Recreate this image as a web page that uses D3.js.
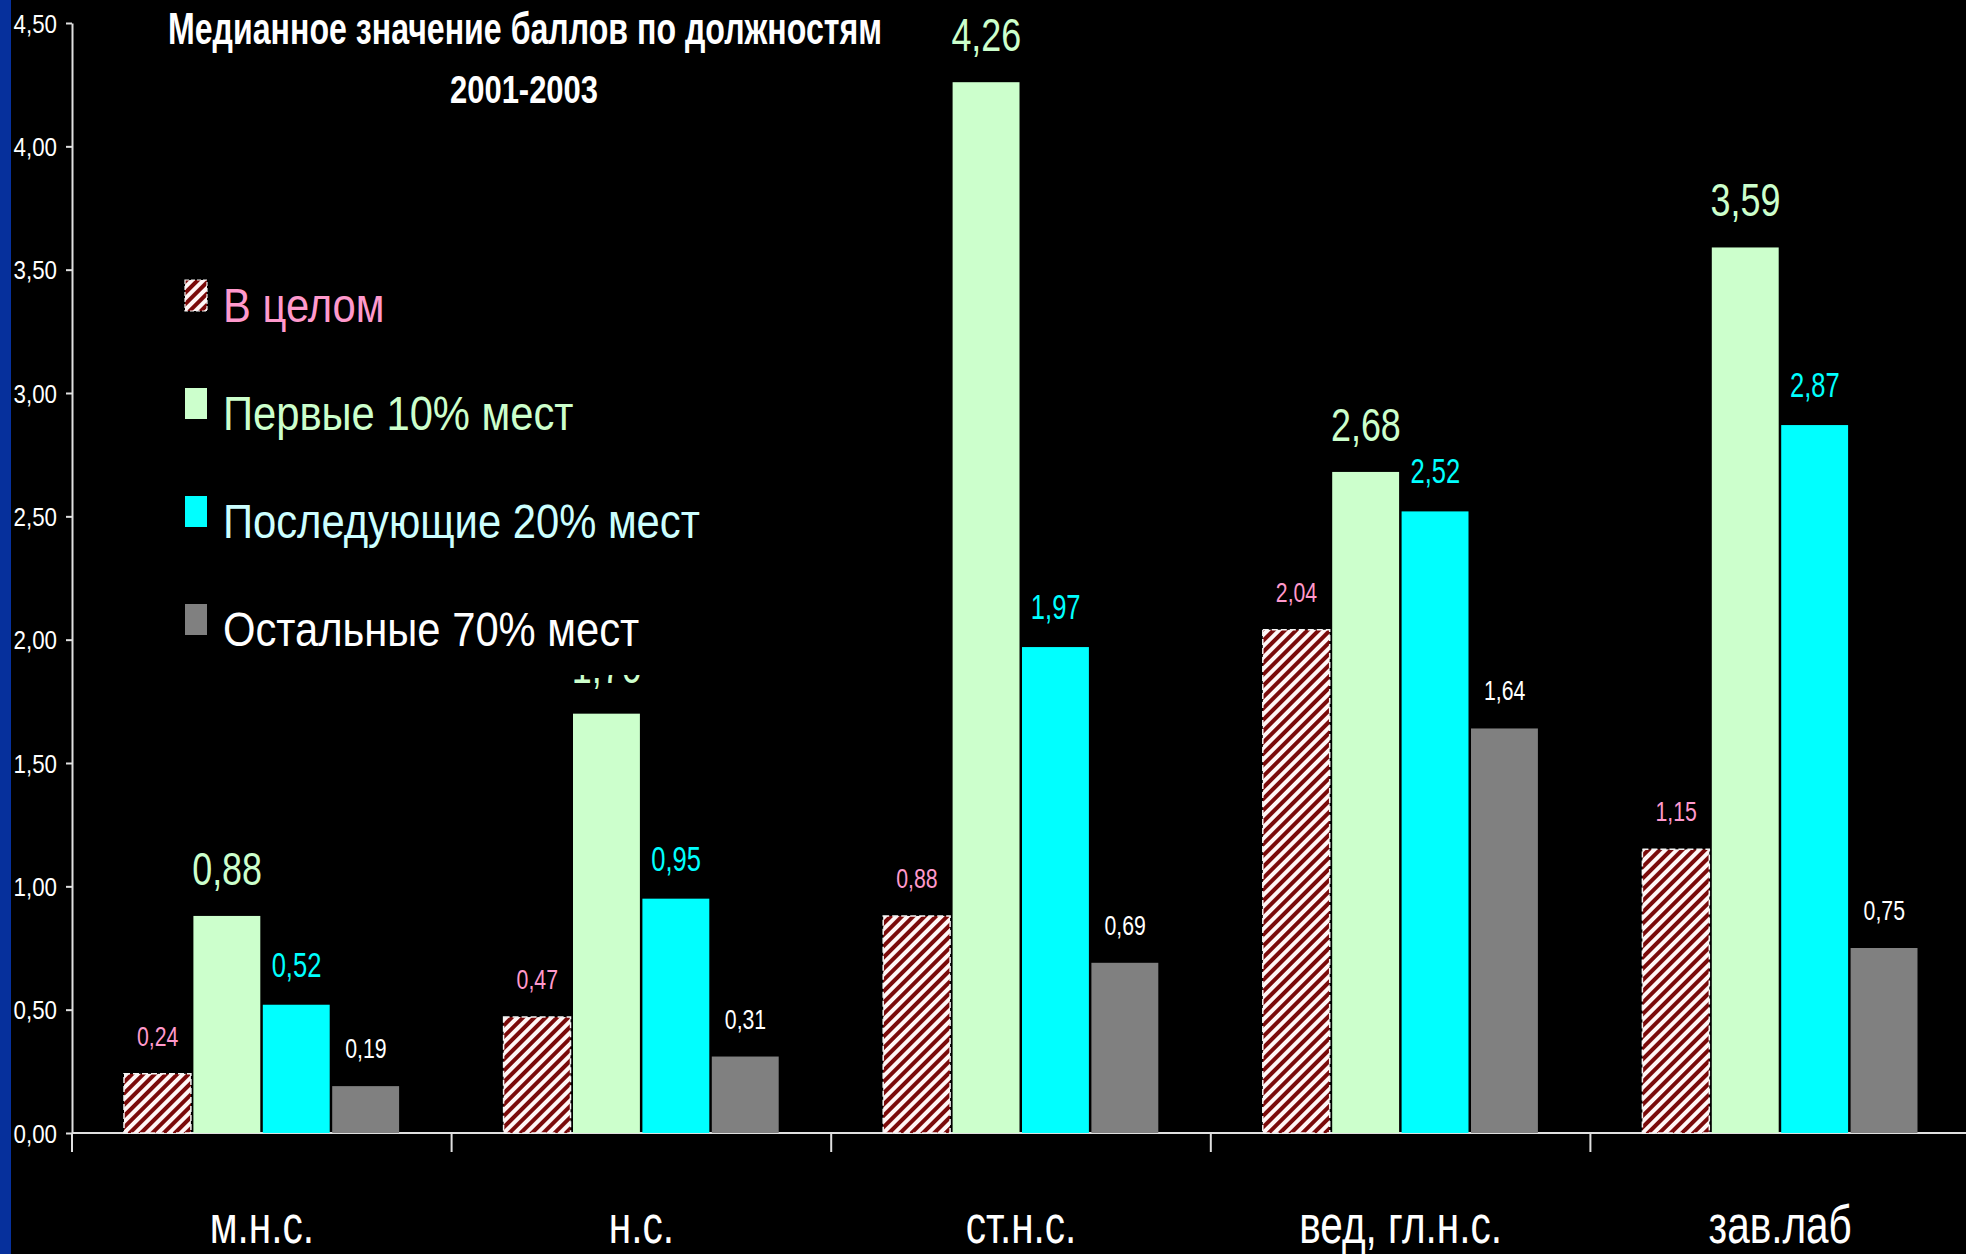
<!DOCTYPE html>
<html>
<head>
<meta charset="utf-8">
<script src="https://cdn.jsdelivr.net/npm/d3@7"></script>
<style>
  html, body { margin: 0; padding: 0; background: #000; }
  svg { display: block; }
</style>
</head>
<body>
<svg id="chart" width="1966" height="1254"></svg>
<script>
// Median scores by position, 2001-2003
const categories = ["м.н.с.", "н.с.", "ст.н.с.", "вед, гл.н.с.", "зав.лаб"];
const seriesNames = ["В целом", "Первые 10% мест", "Последующие 20% мест", "Остальные 70% мест"];
const overall = [0.24, 0.47, 0.88, 2.04, 1.15];
const top10   = [0.88, 1.70, 4.26, 2.68, 3.59];
const next20  = [0.52, 0.95, 1.97, 2.52, 2.87];
const rest70  = [0.19, 0.31, 0.69, 1.64, 0.75];
const yTicks  = [0, 0.5, 1, 1.5, 2, 2.5, 3, 3.5, 4, 4.5];
const titleLines = ["Медианное значение баллов по должностям", "2001-2003"];

const seriesValues = [overall, top10, next20, rest70];

// visual styles per series
const styles = [
  { fill: "url(#hatch)", label: "#ff99cc", legend: "#ff99cc", size: 28, sx: 0.76, gap: 28 },
  { fill: "#ccffcc",     label: "#ccffcc", legend: "#ccffcc", size: 46, sx: 0.78, gap: 31 },
  { fill: "#00ffff",     label: "#00ffff", legend: "#ccffff", size: 35, sx: 0.73, gap: 28 },
  { fill: "#808080",     label: "#ffffff", legend: "#ffffff", size: 28, sx: 0.76, gap: 28 }
];

const FONT = "'Liberation Sans', Arial, sans-serif";
const W = 1966, H = 1254;
const svg = d3.select("#chart").style("background", "#000");

// left accent strip
svg.append("rect").attr("x", 0).attr("y", 0).attr("width", 11).attr("height", H).attr("fill", "#06309c");

// hatch pattern for the overall series
const defs = svg.append("defs");
const pat = defs.append("pattern")
  .attr("id", "hatch").attr("patternUnits", "userSpaceOnUse")
  .attr("width", 8).attr("height", 8)
  .attr("patternTransform", "rotate(45)");
pat.append("rect").attr("width", 8).attr("height", 8).attr("fill", "#fff6f6");
pat.append("rect").attr("width", 4).attr("height", 8).attr("fill", "#7a0a0a");

const x0 = d3.scaleBand().domain(categories).range([72, 1970]).padding(0);
const x1 = d3.scaleBand().domain(seriesNames).range([51, x0.bandwidth() - 51]).padding(0);
const y = d3.scaleLinear().domain([0, 4.5]).range([1133, 23]);

const locale = d3.formatLocale({ decimal: ",", thousands: " ", grouping: [3], currency: ["", ""] });
const fmt = locale.format(".2f");

// narrow text helper: Arial metrics compressed horizontally
function squeezed(g, x, yPos, str, o) {
  return g.append("text")
    .attr("transform", `translate(${x},${yPos}) scale(${o.sx},1)`)
    .attr("text-anchor", o.anchor || "middle")
    .attr("font-family", FONT)
    .attr("font-size", o.size)
    .attr("font-weight", o.weight || "normal")
    .attr("fill", o.color)
    .text(str);
}

// y axis
const yAxis = svg.append("g")
  .attr("transform", "translate(72,0)")
  .call(d3.axisLeft(y).tickValues(yTicks).tickFormat(fmt).tickSize(6).tickSizeOuter(0));
yAxis.select(".domain").attr("stroke", "#e0e0e0").attr("stroke-width", 2);
yAxis.selectAll(".tick line").attr("stroke", "#e0e0e0").attr("stroke-width", 2);
yAxis.selectAll(".tick text")
  .attr("fill", "#ffffff")
  .attr("font-family", FONT)
  .attr("font-size", 26)
  .attr("x", -15 / 0.86)
  .attr("dy", "0.35em")
  .attr("transform", "scale(0.86,1)");

// x axis line and category boundary ticks
const xAxis = svg.append("g");
xAxis.append("line")
  .attr("x1", 72).attr("x2", W).attr("y1", y(0)).attr("y2", y(0))
  .attr("stroke", "#e0e0e0").attr("stroke-width", 2);
const bounds = categories.map(c => x0(c));
xAxis.selectAll("line.tk").data(bounds).join("line").attr("class", "tk")
  .attr("x1", d => d).attr("x2", d => d)
  .attr("y1", y(0)).attr("y2", y(0) + 19)
  .attr("stroke", "#e0e0e0").attr("stroke-width", 2);

// category labels
categories.forEach(c => {
  squeezed(svg, x0(c) + x0.bandwidth() / 2, 1243, c, { size: 54, sx: 0.75, color: "#ffffff" });
});

// bars
const groups = svg.append("g").selectAll("g").data(categories).join("g")
  .attr("transform", c => `translate(${x0(c)},0)`);

seriesNames.forEach((s, si) => {
  const vals = seriesValues[si];
  groups.append("rect")
    .attr("x", x1(s) + 1)
    .attr("width", x1.bandwidth() - 2.5)
    .attr("y", (c, ci) => y(vals[ci]))
    .attr("height", (c, ci) => y(0) - y(vals[ci]))
    .attr("fill", styles[si].fill)
    .attr("stroke", si === 0 ? "#f4f4f4" : "none")
    .attr("stroke-width", si === 0 ? 1.5 : 0)
    .attr("stroke-dasharray", si === 0 ? "6,3" : null);
});

// value labels
const labelLayer = svg.append("g");
categories.forEach((c, ci) => {
  seriesNames.forEach((s, si) => {
    const v = seriesValues[si][ci];
    const st = styles[si];
    squeezed(labelLayer, x0(c) + x1(s) + x1.bandwidth() / 2, y(v) - st.gap, fmt(v),
      { size: st.size, sx: st.sx, color: st.label });
  });
});

// legend (opaque box over the plot)
const legend = svg.append("g");
legend.append("rect").attr("x", 170).attr("y", 255).attr("width", 545).attr("height", 420).attr("fill", "#000");
seriesNames.forEach((s, si) => {
  const base = 322 + si * 108;
  legend.append("rect")
    .attr("x", 185).attr("y", base - 42).attr("width", 22).attr("height", 31)
    .attr("fill", styles[si].fill)
    .attr("stroke", si === 0 ? "#f4f4f4" : "none")
    .attr("stroke-width", si === 0 ? 1.2 : 0)
    .attr("stroke-dasharray", si === 0 ? "4,2" : null);
  squeezed(legend, 223, base, s, { size: 48, sx: 0.87, color: styles[si].legend, anchor: "start" });
});

// title
svg.append("text")
  .attr("x", 168).attr("y", 44)
  .attr("font-family", FONT).attr("font-size", 44).attr("font-weight", "bold")
  .attr("fill", "#ffffff")
  .attr("textLength", 714).attr("lengthAdjust", "spacingAndGlyphs")
  .text(titleLines[0]);
svg.append("text")
  .attr("x", 450).attr("y", 103)
  .attr("font-family", FONT).attr("font-size", 39).attr("font-weight", "bold")
  .attr("fill", "#ffffff")
  .attr("textLength", 148).attr("lengthAdjust", "spacingAndGlyphs")
  .text(titleLines[1]);
</script>
</body>
</html>
